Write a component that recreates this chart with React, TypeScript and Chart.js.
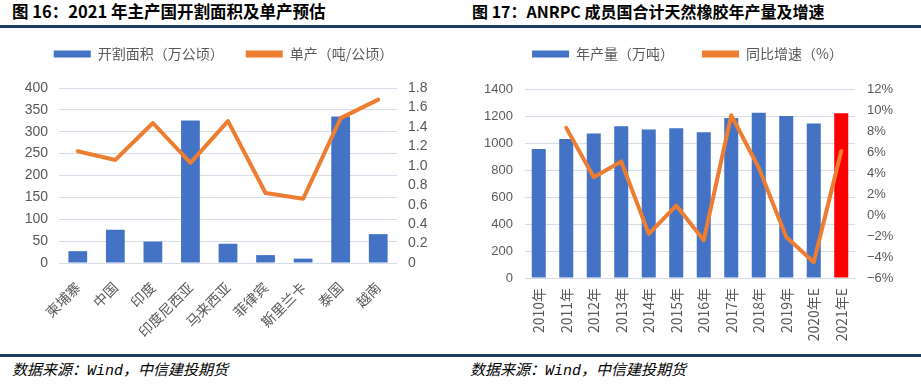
import React, { useEffect, useRef } from 'react';
import { Chart, registerables } from 'chart.js';

Chart.register(...registerables);

// ---- Figure 16 data ----
const countries = ['柬埔寨', '中国', '印度', '印度尼西亚', '马来西亚', '菲律宾', '斯里兰卡', '泰国', '越南'];
const tappingArea = [27, 76, 49, 326, 44, 18, 10, 335, 66]; // 万公顷
const yieldPerHa = [1.15, 1.06, 1.44, 1.03, 1.46, 0.72, 0.66, 1.49, 1.68]; // 吨/公顷

// ---- Figure 17 data ----
const years = ['2010年', '2011年', '2012年', '2013年', '2014年', '2015年', '2016年', '2017年', '2018年', '2019年', '2020年E', '2021年E'];
const production = [955, 1030, 1070, 1125, 1100, 1110, 1080, 1185, 1225, 1200, 1145, 1220]; // 万吨
const growth = [null, 8.3, 3.6, 5.1, -1.8, 0.9, -2.4, 9.5, 4.5, -2.1, -4.5, 6.1]; // %

const BLUE = '#4472C4';
const ORANGE = '#ED7D31';
const RED = '#FF0000';
const GRID = '#D6DCE8';
const TICK = '#595959';
const FONT = "'Liberation Sans', 'Noto Sans CJK SC', sans-serif";
const CJK = "'Noto Sans CJK SC', 'Liberation Sans', sans-serif";

function legendSpacer(extra: number) {
  return {
    id: 'legendSpacer',
    beforeUpdate(chart: any) {
      const l = chart.legend;
      if (l && !l.__patched) {
        const orig = l.fit;
        l.fit = function () {
          orig.call(this);
          this.height += extra;
        };
        l.__patched = true;
      }
    },
  };
}

function makeLegend(colors: string[], padding: number) {
  return {
    position: 'top',
    align: 'center',
    labels: {
      boxWidth: 37,
      boxHeight: 7,
      padding,
      color: TICK,
      font: { family: CJK, size: 14 },
      generateLabels: (chart: any) =>
        chart.data.datasets.map((ds: any, i: number) => ({
          text: ds.label,
          fillStyle: colors[i],
          strokeStyle: colors[i],
          lineWidth: 0,
          hidden: false,
          datasetIndex: i,
          fontColor: TICK,
        })),
    },
  };
}

function LeftChart() {
  const ref = useRef<HTMLCanvasElement>(null);
  useEffect(() => {
    const chart = new Chart(ref.current!, {
      type: 'bar',
      data: {
        labels: countries,
        datasets: [
          {
            type: 'bar',
            label: '开割面积（万公顷）',
            data: tappingArea,
            backgroundColor: BLUE,
            yAxisID: 'y',
            order: 1,
            categoryPercentage: 1,
            barPercentage: 0.5,
          },
          {
            type: 'line',
            label: '单产（吨/公顷）',
            data: yieldPerHa,
            borderColor: ORANGE,
            backgroundColor: ORANGE,
            borderWidth: 4,
            pointRadius: 0,
            borderJoinStyle: 'round',
            borderCapStyle: 'round',
            tension: 0,
            yAxisID: 'y1',
            order: 0,
          },
        ],
      } as any,
      plugins: [legendSpacer(17) as any],
      options: {
        responsive: false,
        animation: false,
        devicePixelRatio: 1,
        layout: { padding: { left: 0, right: 13, top: 0, bottom: 0 } },
        plugins: {
          legend: makeLegend([BLUE, ORANGE], 22) as any,
          tooltip: { enabled: false },
        },
        scales: {
          x: {
            grid: { display: false, drawTicks: false },
            border: { display: false },
            ticks: {
              color: TICK,
              font: { family: CJK, size: 14 },
              minRotation: 45,
              maxRotation: 45,
              autoSkip: false,
              padding: 16,
            },
            afterFit: (s: any) => {
              s.height = 83;
            },
          },
          y: {
            position: 'left',
            min: 0,
            max: 400,
            ticks: { stepSize: 50, autoSkip: false, color: TICK, font: { family: FONT, size: 14 }, padding: 11 },
            grid: { color: GRID, drawTicks: false },
            border: { display: false },
            afterFit: (s: any) => {
              s.width = 59;
            },
          },
          y1: {
            position: 'right',
            min: 0,
            max: 1.8,
            ticks: { stepSize: 0.2, autoSkip: false, color: TICK, font: { family: FONT, size: 14 }, padding: 11 },
            grid: { display: false, drawTicks: false },
            border: { display: false },
            afterFit: (s: any) => {
              s.width = 50;
            },
          },
        },
      } as any,
    });
    return () => chart.destroy();
  }, []);
  return <canvas ref={ref} width={460} height={321} style={{ position: 'absolute', left: 0, top: 25 }} />;
}

function RightChart() {
  const ref = useRef<HTMLCanvasElement>(null);
  useEffect(() => {
    const chart = new Chart(ref.current!, {
      type: 'bar',
      data: {
        labels: years,
        datasets: [
          {
            type: 'bar',
            label: '年产量（万吨）',
            data: production,
            backgroundColor: years.map((_, i) => (i === years.length - 1 ? RED : BLUE)),
            yAxisID: 'y',
            order: 1,
            categoryPercentage: 1,
            barPercentage: 0.51,
          },
          {
            type: 'line',
            label: '同比增速（%）',
            data: growth,
            borderColor: ORANGE,
            backgroundColor: ORANGE,
            borderWidth: 4,
            pointRadius: 0,
            borderJoinStyle: 'round',
            borderCapStyle: 'round',
            tension: 0,
            spanGaps: false,
            yAxisID: 'y1',
            order: 0,
          },
        ],
      } as any,
      plugins: [legendSpacer(18) as any],
      options: {
        responsive: false,
        animation: false,
        devicePixelRatio: 1,
        layout: { padding: { left: 0, right: 6, top: 0, bottom: 0 } },
        plugins: {
          legend: makeLegend([BLUE, ORANGE], 28) as any,
          tooltip: { enabled: false },
        },
        scales: {
          x: {
            grid: { display: false, drawTicks: false },
            border: { display: false },
            ticks: {
              color: TICK,
              font: { family: CJK, size: 14 },
              minRotation: 90,
              maxRotation: 90,
              autoSkip: false,
              padding: 10,
            },
            afterFit: (s: any) => {
              s.height = 68;
            },
          },
          y: {
            position: 'left',
            min: 0,
            max: 1400,
            ticks: {
              stepSize: 200,
              autoSkip: false,
              color: TICK,
              font: { family: FONT, size: 13 },
              padding: 12,
              callback: (v: any) => String(v),
            },
            grid: { color: GRID, drawTicks: false },
            border: { display: false },
            afterFit: (s: any) => {
              s.width = 65;
            },
          },
          y1: {
            position: 'right',
            min: -6,
            max: 12,
            ticks: {
              stepSize: 2,
              autoSkip: false,
              color: TICK,
              font: { family: FONT, size: 13 },
              padding: 12,
              callback: (v: any) => (v < 0 ? '−' : '') + Math.abs(v) + '%',
            },
            grid: { display: false, drawTicks: false },
            border: { display: false },
            afterFit: (s: any) => {
              s.width = 60;
            },
          },
        },
      } as any,
    });
    return () => chart.destroy();
  }, []);
  return <canvas ref={ref} width={461} height={327} style={{ position: 'absolute', left: 460, top: 19 }} />;
}

const titleStyle: React.CSSProperties = {
  position: 'absolute',
  top: 3,
  fontFamily: CJK,
  fontWeight: 700,
  fontSize: 16,
  lineHeight: '17px',
  color: '#000',
  whiteSpace: 'nowrap',
};

const footStyle: React.CSSProperties = {
  position: 'absolute',
  top: 363,
  fontFamily: "'Liberation Mono', 'Noto Sans CJK SC', monospace",
  fontStyle: 'italic',
  fontSize: 15,
  lineHeight: '18px',
  color: '#000',
  whiteSpace: 'nowrap',
};

export default function App() {
  useEffect(() => {
    document.body.style.margin = '0';
  }, []);
  return (
    <div style={{ position: 'fixed', left: 0, top: 0, width: 921, height: 386, background: '#fff', overflow: 'hidden' }}>
      <div style={{ ...titleStyle, left: 12, fontSize: 16.5 }}>图 16：2021 年主产国开割面积及单产预估</div>
      <div style={{ ...titleStyle, left: 472 }}>图 17：ANRPC 成员国合计天然橡胶年产量及增速</div>
      <div style={{ position: 'absolute', left: 0, top: 25, width: 921, height: 3, background: '#1F3A5F' }} />
      <LeftChart />
      <RightChart />
      <div style={{ position: 'absolute', left: 0, top: 354, width: 921, height: 3, background: '#1F3A5F' }} />
      <div style={{ ...footStyle, left: 12 }}>数据来源：Wind，中信建投期货</div>
      <div style={{ ...footStyle, left: 470 }}>数据来源：Wind，中信建投期货</div>
    </div>
  );
}
